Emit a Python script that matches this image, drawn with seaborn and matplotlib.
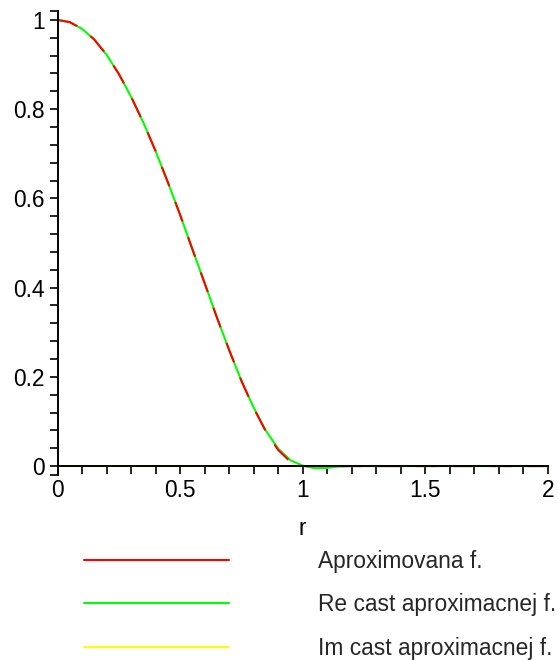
import numpy as np
import pandas as pd
import matplotlib
matplotlib.use("Agg")
import matplotlib.pyplot as plt
from matplotlib.lines import Line2D
from matplotlib.ticker import FixedLocator
import seaborn as sns

# ---- data ----
r_vals = [0.00, 0.05, 0.10, 0.15, 0.20, 0.25, 0.30, 0.35, 0.40, 0.45,
          0.50, 0.55, 0.60, 0.65, 0.70, 0.75, 0.80, 0.85, 0.90, 0.95,
          1.00, 1.05, 1.10, 1.15, 1.20, 1.25, 1.30, 1.35, 1.40, 1.45,
          1.50, 1.55, 1.60, 1.65, 1.70, 1.75, 1.80, 1.85, 1.90, 1.95, 2.00]
approx_f = [1.000, 0.995, 0.980, 0.956, 0.922, 0.879, 0.828, 0.770, 0.706, 0.636,
            0.563, 0.486, 0.410, 0.333, 0.260, 0.191, 0.130, 0.077, 0.036, 0.0095,
            0.000, 0.000, 0.000, 0.000, 0.000, 0.000, 0.000, 0.000, 0.000, 0.000,
            0.000, 0.000, 0.000, 0.000, 0.000, 0.000, 0.000, 0.000, 0.000, 0.000, 0.000]
re_part = [1.000, 0.995, 0.980, 0.956, 0.922, 0.879, 0.828, 0.770, 0.706, 0.636,
           0.563, 0.486, 0.410, 0.333, 0.260, 0.191, 0.131, 0.079, 0.039, 0.013,
           0.001, -0.005, -0.004, -0.001, 0.000, 0.000, 0.000, 0.000, 0.000, 0.000,
           0.000, 0.000, 0.000, 0.000, 0.000, 0.000, 0.000, 0.000, 0.000, 0.000, 0.000]
im_part = [0.0] * len(r_vals)

labels = ["Aproximovana f.", "Re cast aproximacnej f.", "Im cast aproximacnej f."]
colors = ["#ff0000", "#00ff00", "#ffff00"]
x_major = [0, 0.5, 1, 1.5, 2]
x_major_labels = ["0", "0.5", "1", "1.5", "2"]
y_major = [0, 0.2, 0.4, 0.6, 0.8, 1]
y_major_labels = ["0", "0.2", "0.4", "0.6", "0.8", "1"]

sns.set_style("white")
plt.rcParams["font.family"] = ["Liberation Sans", "DejaVu Sans"]

W, H = 558, 660
fig = plt.figure(figsize=(W / 100, H / 100), dpi=100)
x0, x1, ytop, ybot = 57.5, 548.0, 11.0, 475.0
ax = fig.add_axes([x0 / W, 1 - ybot / H, (x1 - x0) / W, (ybot - ytop) / H])

lw = 1.5
sns.lineplot(x=r_vals, y=im_part, ax=ax, color=colors[2], lw=lw, estimator=None, zorder=2)
sns.lineplot(x=r_vals, y=re_part, ax=ax, color=colors[1], lw=lw, estimator=None, zorder=3)
sns.lineplot(x=r_vals, y=approx_f, ax=ax, color=colors[0], lw=lw, estimator=None,
             linestyle=(0, (10, 8)), zorder=4)

ax.set_xlim(0, 2)
ax.set_ylim(-0.02, 1.02)
for s in ["top", "right"]:
    ax.spines[s].set_visible(False)
ax.spines["bottom"].set_position(("data", 0))
for s in ["left", "bottom"]:
    ax.spines[s].set_color("black")
    ax.spines[s].set_linewidth(1.4)
    ax.spines[s].set_zorder(5)

ax.set_xticks(x_major)
ax.set_xticklabels(x_major_labels)
ax.set_yticks(y_major)
ax.set_yticklabels(y_major_labels)
x_minor = [v / 10 for v in range(1, 20) if v % 5 != 0]
y_minor = [-0.02] + [v * 0.04 for v in range(1, 25) if v % 5 != 0] + [1.02]
ax.xaxis.set_minor_locator(FixedLocator(x_minor))
ax.yaxis.set_minor_locator(FixedLocator(y_minor))
ax.tick_params(axis="both", which="both", direction="out", length=5.5, width=1.2,
               color="black", labelsize=16.4, labelcolor="black")
ax.tick_params(axis="x", which="both", pad=3.5, bottom=True)
ax.tick_params(axis="y", which="both", pad=3.5, left=True)
ax.grid(False)

ax.set_xlabel("r", fontsize=16.4, color="black")
ax.xaxis.set_label_coords(0.5, (ybot - 535) / (ybot - ytop))
ax.xaxis.label.set_va("baseline")
ax.set_ylabel("")

handles = [Line2D([], [], color=c, lw=lw) for c in colors]
fig.legend(handles, labels, loc="upper left", bbox_to_anchor=(84 / W, 1 - 550 / H),
           frameon=False, fontsize=16.4, handlelength=6.36, handletextpad=3.9,
           labelspacing=0.89, borderpad=0, borderaxespad=0)

fig.savefig("out.png", dpi=100)
